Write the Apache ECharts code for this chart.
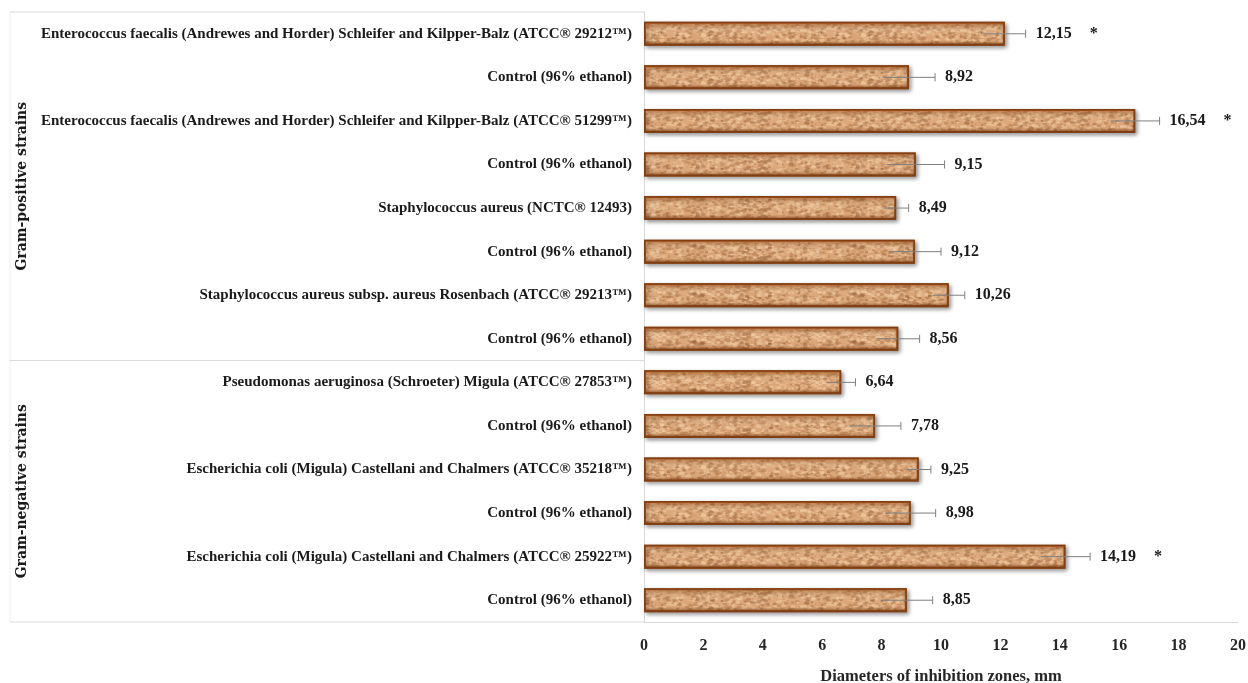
<!DOCTYPE html>
<html>
<head>
<meta charset="utf-8">
<script src="https://cdn.jsdelivr.net/npm/echarts@6/dist/echarts.min.js"></script>
<style>html,body{margin:0;padding:0;background:#fff;width:100%;height:100%;overflow:hidden;}#c{width:100%;height:100%;}</style>
</head>
<body>
<div id="c"></div>
<script>
const categories = [
  'Enterococcus faecalis (Andrewes and Horder) Schleifer and Kilpper-Balz (ATCC® 29212™)',
  'Control (96% ethanol)',
  'Enterococcus faecalis (Andrewes and Horder) Schleifer and Kilpper-Balz (ATCC® 51299™)',
  'Control (96% ethanol)',
  'Staphylococcus aureus (NCTC® 12493)',
  'Control (96% ethanol)',
  'Staphylococcus aureus subsp. aureus Rosenbach (ATCC® 29213™)',
  'Control (96% ethanol)',
  'Pseudomonas aeruginosa (Schroeter) Migula (ATCC® 27853™)',
  'Control (96% ethanol)',
  'Escherichia coli (Migula) Castellani and Chalmers (ATCC® 35218™)',
  'Control (96% ethanol)',
  'Escherichia coli (Migula) Castellani and Chalmers (ATCC® 25922™)',
  'Control (96% ethanol)'
];
const values = [12.15, 8.92, 16.54, 9.15, 8.49, 9.12, 10.26, 8.56, 6.64, 7.78, 9.25, 8.98, 14.19, 8.85];
const errors = [0.70, 0.88, 0.82, 0.97, 0.42, 0.88, 0.54, 0.72, 0.48, 0.87, 0.41, 0.84, 0.83, 0.87];
const significant = [1, 0, 1, 0, 0, 0, 0, 0, 0, 0, 0, 0, 1, 0];
const groupNames = ['Gram-positive strains', 'Gram-negative strains'];
const groupSizes = [8, 6];
const xTicks = [0, 2, 4, 6, 8, 10, 12, 14, 16, 18, 20];
const xAxisTitle = 'Diameters of inhibition zones, mm';

// cork-like texture (style only)
function makeTexture() {
  const cv = document.createElement('canvas');
  cv.width = 160; cv.height = 48;
  const g = cv.getContext('2d');
  g.fillStyle = '#daa476';
  g.fillRect(0, 0, cv.width, cv.height);
  function h(n) { const s = Math.sin(n * 12.9898) * 43758.5453; return s - Math.floor(s); }
  for (let i = 0; i < 1100; i++) {
    const x = h(i + 0.1) * cv.width, y = h(i + 7.3) * cv.height;
    const r = 0.5 + h(i + 3.7) * 1.2;
    const t = h(i + 11.9);
    g.fillStyle = t < 0.4 ? 'rgba(170,112,68,0.45)' : (t < 0.85 ? 'rgba(240,200,158,0.6)' : 'rgba(140,88,50,0.4)');
    g.beginPath(); g.ellipse(x, y, r * 1.7, r, 0, 0, Math.PI * 2); g.fill();
  }
  return cv;
}

const fmt = v => v.toFixed(2).replace('.', ',');
const serif = "'Liberation Serif', 'DejaVu Serif', serif";
const groupFont = "'DejaVu Serif Condensed', 'DejaVu Serif', serif";

const chart = echarts.init(document.getElementById('c'));
const customData = values.map((v, i) => [v, i, errors[i], significant[i]]);

chart.setOption({
  animation: false,
  grid: { left: 644, right: 10, top: 12, bottom: 61, containLabel: false, outerBoundsMode: 'none' },
  xAxis: {
    type: 'value', min: 0, max: 20, interval: 2,
    splitLine: { show: false },
    axisLine: { show: true, lineStyle: { color: '#d9d9d9', width: 1 } },
    axisTick: { show: false },
    axisLabel: { margin: 16, fontFamily: serif, fontWeight: 'bold', fontSize: 16, color: '#262626',
      formatter: v => (xTicks.indexOf(v) >= 0 ? String(v) : '') },
    name: xAxisTitle, nameLocation: 'middle', nameGap: 46,
    nameTextStyle: { fontFamily: serif, fontWeight: 'bold', fontSize: 16.5, color: '#262626' }
  },
  yAxis: {
    type: 'category', data: categories, inverse: true,
    axisLine: { show: true, lineStyle: { color: '#d9d9d9', width: 1 } },
    axisTick: { show: false },
    axisLabel: { margin: 12, fontFamily: serif, fontWeight: 'bold', fontSize: 15, color: '#1a1a1a' }
  },
  series: [
    {
      type: 'bar', data: values, barWidth: 24,
      itemStyle: {
        color: { image: makeTexture(), repeat: 'repeat' },
        borderColor: '#94501e', borderWidth: 2,
        shadowColor: 'rgba(0,0,0,0.4)', shadowBlur: 4, shadowOffsetX: 2, shadowOffsetY: 2
      },
      z: 2
    },
    {
      type: 'bar', data: values, barWidth: 24, barGap: '-100%',
      itemStyle: {
        color: new echarts.graphic.LinearGradient(0, 0, 0, 1, [
          { offset: 0, color: 'rgba(165,80,25,0.85)' },
          { offset: 0.14, color: 'rgba(200,115,55,0.25)' },
          { offset: 0.3, color: 'rgba(255,235,200,0.12)' },
          { offset: 0.7, color: 'rgba(255,255,255,0)' },
          { offset: 0.84, color: 'rgba(130,65,20,0.2)' },
          { offset: 1, color: 'rgba(95,42,10,0.9)' }
        ]),
        borderColor: '#823f13', borderWidth: 1.5
      },
      silent: true, z: 3
    },
    {
      type: 'custom', z: 5,
      data: customData,
      encode: { x: 0, y: 1 },
      renderItem: function (params, api) {
        const v = api.value(0), i = api.value(1), e = api.value(2), s = api.value(3);
        const pL = api.coord([v - e, i]);
        const pR = api.coord([v + e, i]);
        const y = pR[1];
        const children = [
          { type: 'line', shape: { x1: pL[0], y1: y, x2: pR[0], y2: y }, style: { stroke: '#7f7f7f', lineWidth: 1 } },
          { type: 'line', shape: { x1: pR[0], y1: y - 4, x2: pR[0], y2: y + 4 }, style: { stroke: '#7f7f7f', lineWidth: 1 } },
          { type: 'text', x: pR[0] + 10, y: y, style: { text: fmt(v), fontFamily: serif, fontWeight: 'bold', fontSize: 16, fill: '#1a1a1a', verticalAlign: 'middle', align: 'left' } }
        ];
        if (s) {
          children.push({ type: 'text', x: pR[0] + 64, y: y, style: { text: '*', fontFamily: serif, fontWeight: 'bold', fontSize: 16, fill: '#1a1a1a', verticalAlign: 'middle', align: 'left' } });
        }
        return { type: 'group', children: children };
      }
    }
  ]
});

// multi-level category frame lines and group labels
function drawGroups() {
  const y0 = chart.convertToPixel({ yAxisIndex: 0 }, 0);
  const y1 = chart.convertToPixel({ yAxisIndex: 0 }, 1);
  const band = y1 - y0;
  const top = y0 - band / 2;
  const plotLeft = chart.convertToPixel({ xAxisIndex: 0 }, 0);
  const els = [];
  const lineStyle = { stroke: '#d9d9d9', lineWidth: 1 };
  els.push({ type: 'line', shape: { x1: 10, y1: top, x2: plotLeft, y2: top }, style: lineStyle });
  els.push({ type: 'line', shape: { x1: 10, y1: top, x2: 10, y2: top + band * categories.length }, style: { stroke: '#f0f0f0', lineWidth: 1 } });
  let start = 0;
  groupNames.forEach((name, gi) => {
    const end = start + groupSizes[gi];
    const yEnd = top + band * end;
    els.push({ type: 'line', shape: { x1: 10, y1: yEnd, x2: plotLeft, y2: yEnd }, style: lineStyle });
    const yMid = top + band * (start + end) / 2;
    els.push({ type: 'text', x: 22, y: yMid, rotation: Math.PI / 2,
      style: { text: name, fontFamily: groupFont, fontWeight: 'bold', fontSize: 15.5, fill: '#1a1a1a', align: 'center', verticalAlign: 'middle' } });
    start = end;
  });
  chart.setOption({ graphic: { elements: els } });
}
drawGroups();
</script>
</body>
</html>
